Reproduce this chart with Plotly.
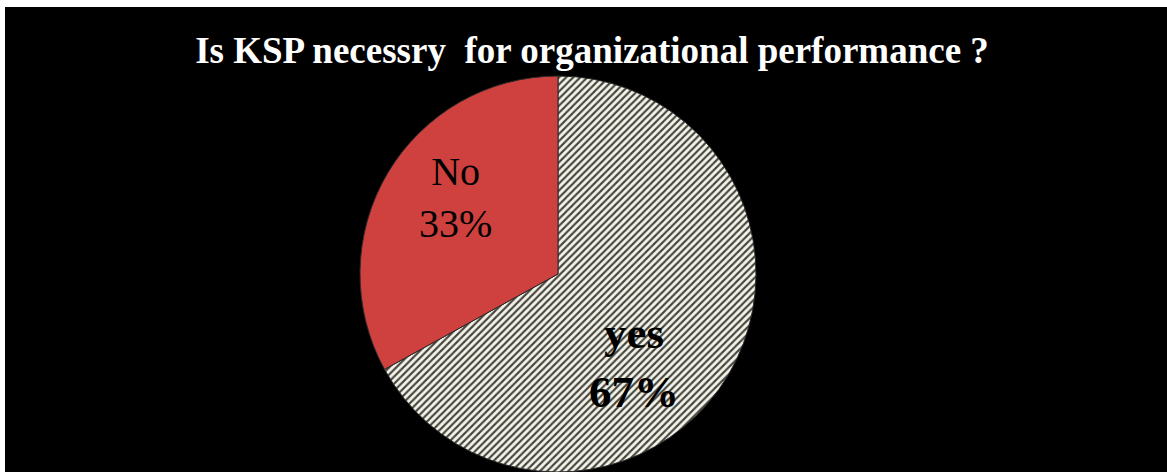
import plotly.graph_objects as go

W, H = 1167, 472

# Data
labels = ["yes", "No"]
values = [67, 33]
title_text = "Is KSP necessry \u00a0for organizational performance ?"

total = sum(values)
pcts = [round(v * 100 / total) for v in values]

fig = go.Figure()
fig.add_trace(go.Pie(
    labels=labels,
    values=values,
    sort=False,
    direction="clockwise",
    rotation=0,
    textinfo="none",
    hoverinfo="label+percent",
    showlegend=False,
    domain=dict(x=[358 / W, 758 / W], y=[0, 1 - 76 / H]),
    marker=dict(
        colors=["#f2f2ea", "#cf413e"],
        pattern=dict(
            shape=["/", ""],
            bgcolor=["#f4f4ec", "#cf413e"],
            fgcolor=["#45453c", "#cf413e"],
            size=5,
            solidity=0.42,
        ),
        line=dict(color="#2a2a2a", width=1),
    ),
))

def px(x, y):
    return x / W, 1 - y / H

ax, ay = px(634, 362)
bx, by = px(455, 197)
fig.add_annotation(
    x=ax, y=ay, xref="paper", yref="paper", showarrow=False,
    text=f"<b>{labels[0]}</b><br><b>{pcts[0]}%</b>",
    font=dict(family="Liberation Serif", size=45, color="black"),
    xanchor="center", yanchor="middle",
)
fig.add_annotation(
    x=bx, y=by, xref="paper", yref="paper", showarrow=False,
    text=f"{labels[1]}<br>{pcts[1]}%",
    font=dict(family="Liberation Serif", size=40, color="black"),
    xanchor="center", yanchor="middle",
)

fig.update_layout(
    width=W, height=H,
    margin=dict(l=0, r=0, t=0, b=0),
    paper_bgcolor="black",
    plot_bgcolor="black",
    title=dict(
        text=f"<b>{title_text}</b>",
        x=592 / W, xanchor="center", xref="paper",
        y=1 - 50 / H, yanchor="middle", yref="paper",
        font=dict(family="Liberation Serif", size=37, color="white"),
    ),
    shapes=[
        dict(type="rect", xref="paper", yref="paper", x0=0, x1=1, y0=1 - 7 / H, y1=1,
             fillcolor="white", line=dict(width=0), layer="above"),
        dict(type="rect", xref="paper", yref="paper", x0=0, x1=5 / W, y0=0, y1=1,
             fillcolor="white", line=dict(width=0), layer="above"),
    ],
)

fig.write_html("out.html")
